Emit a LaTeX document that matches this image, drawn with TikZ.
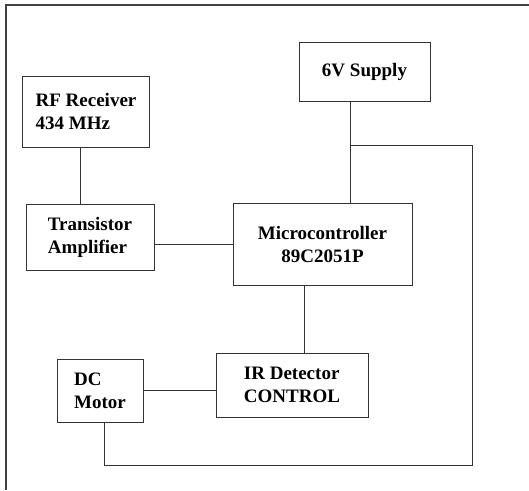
\documentclass[tikz,border=0pt]{standalone}
\usepackage{fontspec}
\setmainfont{Liberation Serif}
\usetikzlibrary{positioning}
\begin{document}
\begin{tikzpicture}[x=1pt,y=-1pt]
    \useasboundingbox (0,0) rectangle (529,490);

        % page frame
        \draw[line width=1.3pt, black!75] (6,490) -- (6,5) -- (529,5);

        % Add or remove blocks here, use the tuple for location
        \begin{scope}[every node/.style={rectangle,draw=black!80,line width=1pt,inner sep=0pt,
                      align=left,font=\bfseries\fontsize{19}{23}\selectfont}]
        \node[minimum width=131pt,minimum height=59pt] (supply) at (364.5,71.5) {6V Supply};
        \node[minimum width=127pt,minimum height=71pt] (rf) at (86,111.5) {RF Receiver\\434 MHz};
        \node[minimum width=128pt,minimum height=66pt] (amp) at (90,237) {Transistor\\Amplifier};
        \node[minimum width=179pt,minimum height=82pt,align=center] (mcu) at (322.5,244) {Microcontroller\\89C2051P};
        \node[minimum width=152pt,minimum height=64pt] (ir) at (292,385) {IR Detector\\CONTROL};
        \node[minimum width=86pt,minimum height=63pt] (motor) at (100,390.5) {DC\\Motor};
        \end{scope}

        % supply rail
        \coordinate (jn) at (350,145);
        \coordinate (cr) at (472,465);

        % Remove or add new connections here
        \begin{scope}[every edge/.style={draw=black!80, line width=1pt}]
        \path [-] ([xshift=-6pt]rf.south) edge[] ([xshift=-6pt]rf.south |- amp.north);
        \path [-] (amp.east |- mcu.west) edge[] (mcu.west);
        \path [-] (jn |- supply.south) edge[] (jn |- mcu.north);
        \path [-] ([xshift=12pt]ir.north) edge[] ([xshift=12pt]ir.north |- mcu.south);
        \path [-] (motor.east) edge[] (motor.east -| ir.west);
        \path [-] (jn) edge[to path={-| (cr) -| (\tikztotarget)}] ([xshift=4pt]motor.south);
        \end{scope}

\end{tikzpicture}
\end{document}
